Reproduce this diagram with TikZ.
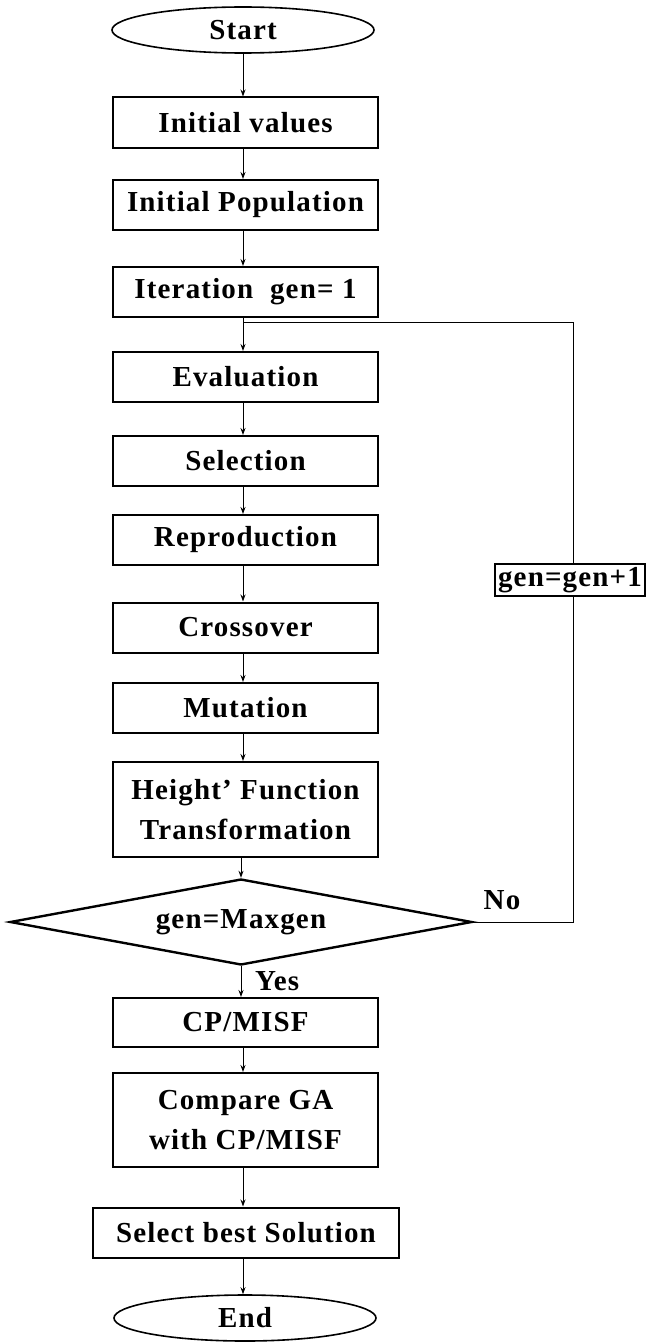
\documentclass[tikz,border=0pt]{standalone}
\usepackage{fontspec}
\setmainfont{Liberation Serif}[LetterSpace=4]
\usetikzlibrary{shapes.geometric,arrows.meta}
\begin{document}
\begin{tikzpicture}[x=0.5pt,y=-0.5pt,
  txt/.style={font=\bfseries\fontsize{14.5}{18}\selectfont},
  box/.style={txt, draw, line width=1pt, minimum width=132.5pt, minimum height=25pt, inner sep=0pt, align=center},
  term/.style={txt, draw, ellipse, line width=0.8pt, minimum width=131pt, minimum height=23pt, inner sep=0pt},
  decision/.style={txt, draw, diamond, aspect=5.4, line width=1.2pt, minimum width=231pt, minimum height=43pt, inner sep=0pt},
  flow/.style={line width=0.5pt, -{Stealth[length=3.5pt,width=2.5pt]}},
  loopline/.style={line width=0.5pt}]
\useasboundingbox (0,0) rectangle (652,1343);
\node[term] (start) at (243,30) {Start};
\node[box] (init) at (245.5,122.5) {Initial values};
\node[box] (pop) at (245.5,205) {Initial Population};
\node[box] (iter) at (245.5,292) {Iteration\ \ gen= 1};
\node[box] (eval) at (245.5,377) {Evaluation};
\node[box] (sel) at (245.5,461) {Selection};
\node[box] (rep) at (245.5,540) {Reproduction};
\node[box] (cross) at (245.5,627.5) {Crossover};
\node[box] (mut) at (245.5,708) {Mutation};
\node[box, minimum height=47.5pt] (height) at (245.5,809.5) {Height' Function\\[2pt]Transformation};
\node[decision] (dec) at (241,922) {gen=Maxgen};
\node[box, minimum height=24.5pt] (cp) at (245.5,1022.5) {CP/MISF};
\node[box, minimum height=47pt] (cmp) at (245.5,1120) {Compare GA\\[2pt]with CP/MISF};
\node[box, minimum width=153pt] (best) at (246,1232.5) {Select best Solution};
\node[term] (end) at (245,1318) {End};
\coordinate (tr) at (573,322);
\coordinate (tl) at (243,322);
\draw[flow] (start.south) -- (init.north -| start.south);
\draw[flow] (init.south -| tl) -- (pop.north -| tl);
\draw[flow] (pop.south -| tl) -- (iter.north -| tl);
\draw[flow] (iter.south -| tl) -- (eval.north -| tl);
\draw[flow] (eval.south -| tl) -- (sel.north -| tl);
\draw[flow] (sel.south -| tl) -- (rep.north -| tl);
\draw[flow] (rep.south -| tl) -- (cross.north -| tl);
\draw[flow] (cross.south -| tl) -- (mut.north -| tl);
\draw[flow] (mut.south -| tl) -- (height.north -| tl);
\draw[flow] (height.south -| dec.north) -- (dec.north);
\draw[flow] (dec.south) -- (cp.north -| dec.south);
\draw[flow] (cp.south -| tl) -- (cmp.north -| tl);
\draw[flow] (cmp.south -| tl) -- (best.north -| tl);
\draw[flow] (best.south -| tl) -- (end.north -| tl);
\draw[loopline] (dec.east) -| (tr) -- (tl);
\node[txt, draw, fill=white, line width=1pt, inner sep=1.5pt] (inc) at (570,580) {gen=gen+1};
\node[txt] (no) at (502,900) {No};
\node[txt, anchor=west] (yes) at (248,981) {Yes};
\end{tikzpicture}
\end{document}
